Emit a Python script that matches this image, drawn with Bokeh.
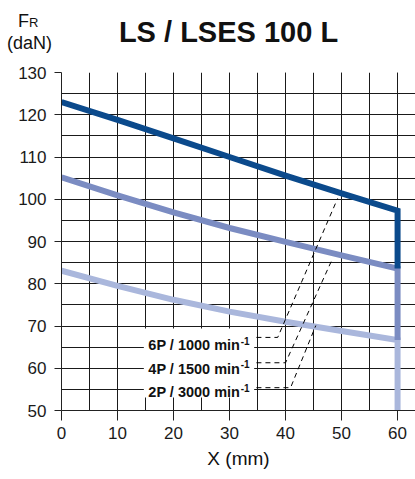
from bokeh.plotting import figure
from bokeh.layouts import column
from bokeh.models import Range1d, SingleIntervalTicker, ColumnDataSource, Div
from bokeh.core.properties import value
from bokeh.embed import file_html
from bokeh.resources import INLINE

# ---- data ----
x_mm = [0, 10, 20, 30, 40, 50, 60]
fr_6p = [123.0, 118.8, 114.4, 110.0, 105.6, 101.4, 97.3]   # 6P / 1000 min-1
fr_4p = [105.2, 100.9, 96.9, 93.2, 89.9, 86.7, 83.6]       # 4P / 1500 min-1
fr_2p = [83.1, 79.5, 76.2, 73.4, 71.0, 68.8, 66.7]         # 2P / 3000 min-1
x_max = 60
y_min, y_max = 50, 130

series_names = ["6P / 1000 min", "4P / 1500 min", "2P / 3000 min"]
series_colors = ["#0b4a8c", "#7b8cc2", "#aab7dc"]

# label / leader-line annotation anchors (data units)
label_x = 15.5
label_base_y = [65.4, 59.9, 54.3]
sup_x = 32.0
sup_base_y = [66.4, 60.9, 55.3]
leader_start_x = 34.8
leader_knee_x = [38.6, 40.0, 40.9]
leader_knee_y = [67.3, 61.3, 55.4]
leader_end_x = [49.3, 48.4, 45.4]
leader_end_y = [100.2, 86.0, 70.1]
box_l, box_r, box_b, box_t = 14.7, 34.4, 53.1, 69.4

title_text = "LS / LSES 100 L"
FONT = "Liberation Sans"
W = 415
HEAD_H = 62

# ---- header strip (title and y-axis unit) ----
def span(text, left, top, size, weight="normal", center=False):
    tr = "transform:translateX(-50%);" if center else ""
    return (f'<span style="position:absolute;left:{left}px;top:{top}px;{tr}'
            f"font-family:'{FONT}';font-size:{size}px;font-weight:{weight};"
            f'line-height:1;white-space:nowrap;color:#111111">{text}</span>')

head_html = (f'<div style="position:relative;width:{W}px;height:{HEAD_H}px">'
             + span(title_text, 228.5, 17.5, 29, "bold", center=True)
             + span("F", 18, 11.8, 18)
             + span("R", 29, 16.0, 13)
             + span("(daN)", 7, 33.8, 18)
             + "</div>")
head = Div(text=head_html, width=W, height=HEAD_H, margin=(0, 0, 0, 0))

# ---- main chart ----
p = figure(width=W, height=415, x_range=Range1d(0, 63.2), y_range=Range1d(y_min, y_max),
           output_backend="svg", toolbar_location=None, title=None,
           min_border_left=61, min_border_right=0, min_border_top=10, min_border_bottom=67)
p.outline_line_color = None
p.background_fill_color = "white"
p.border_fill_color = "white"
p.margin = (0, 0, 0, 0)

for ax in (p.xaxis[0], p.yaxis[0]):
    ax.ticker = SingleIntervalTicker(interval=10, num_minor_ticks=2)
    ax.minor_tick_line_color = None
    ax.major_tick_in = 0
    ax.axis_line_color = "#222222"
    ax.major_tick_line_color = "#222222"
    ax.major_label_text_font = FONT
    ax.major_label_text_font_size = "17px"
    ax.major_label_text_color = "#1a1a1a"
p.xaxis.major_tick_out = 10
p.xaxis.major_label_standoff = 6
p.yaxis.major_tick_out = 7
p.yaxis.major_label_standoff = 8
p.xaxis.axis_label = "X (mm)"
p.xaxis.axis_label_text_font = FONT
p.xaxis.axis_label_text_font_size = "19px"
p.xaxis.axis_label_text_font_style = "normal"
p.xaxis.axis_label_text_color = "#111111"
p.xaxis.axis_label_standoff = 6

for g in (p.xgrid[0], p.ygrid[0]):
    g.grid_line_color = "#1a1a1a"
    g.grid_line_alpha = 1.0
    g.minor_grid_line_color = "#1a1a1a"
    g.minor_grid_line_alpha = 1.0

# curves with their vertical drop at x = 60 down to the next curve
curves = [fr_6p, fr_4p, fr_2p]
ends = [fr_4p[-1], fr_2p[-1], y_min]
for i in [2, 1, 0]:
    xs = list(x_mm) + [x_max]
    ys = list(curves[i]) + [ends[i]]
    p.line(xs, ys, line_color=series_colors[i], line_width=6, line_join="miter")

# white label box
p.quad(left=[box_l], right=[box_r], bottom=[box_b], top=[box_t],
       fill_color="white", line_color=None)

# leader lines
for i in range(3):
    p.line([leader_start_x, leader_knee_x[i], leader_end_x[i]],
           [leader_knee_y[i], leader_knee_y[i], leader_end_y[i]],
           line_color="black", line_width=1, line_dash="5 4")

src = ColumnDataSource(dict(x=[label_x] * 3, y=label_base_y, t=series_names))
p.text(x="x", y="y", text="t", source=src, text_font=value(FONT),
       text_font_size="14.5px", text_font_style="bold", text_color="#111111",
       text_align="left", text_baseline="alphabetic")
src2 = ColumnDataSource(dict(x=[sup_x] * 3, y=sup_base_y, t=["-1"] * 3))
p.text(x="x", y="y", text="t", source=src2, text_font=value(FONT),
       text_font_size="10px", text_font_style="bold", text_color="#111111",
       text_align="left", text_baseline="alphabetic")

layout = column(head, p, spacing=0)
open("out.html", "w").write(file_html(layout, INLINE))
